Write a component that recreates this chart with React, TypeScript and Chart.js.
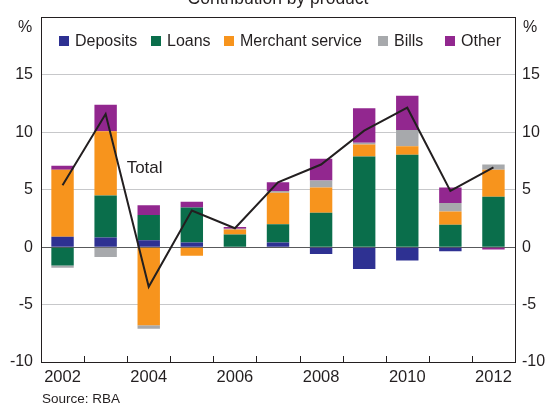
import React, { useEffect, useRef } from "react";
import { Chart, registerables } from "chart.js";

Chart.register(...registerables);

const years = ["2002", "2003", "2004", "2005", "2006", "2007", "2008", "2009", "2010", "2011", "2012"];
const deposits = [0.9, 0.85, 0.6, 0.4, 0, 0.4, -0.6, -1.9, -1.15, -0.35, 0];
const loans = [-1.6, 3.65, 2.2, 3.05, 1.1, 1.6, 3.0, 7.9, 8.05, 1.95, 4.4];
const merchant = [5.85, 5.6, -6.8, -0.75, 0.45, 2.75, 2.2, 1.05, 0.75, 1.15, 2.35];
const bills = [-0.2, -0.85, -0.3, 0, 0.05, 0.15, 0.6, 0.15, 1.4, 0.75, 0.45];
const other = [0.35, 2.3, 0.85, 0.5, 0.15, 0.75, 1.9, 3.0, 3.0, 1.35, -0.2];
const total = [5.4, 11.6, -3.45, 3.2, 1.65, 5.65, 7.2, 10.15, 12.15, 4.9, 6.95];

const yTicks = [-10, -5, 0, 5, 10, 15];

const FONT = "'Liberation Sans', Arial, Helvetica, sans-serif";
const TEXT = "#231f20";

const extras = {
  id: "extras",
  afterDraw(chart: any) {
    const ctx = chart.ctx;
    const area = chart.chartArea;
    const xs = chart.scales.x;
    const ys = chart.scales.y;
    ctx.save();
    // title (partially cut off at top)
    ctx.fillStyle = TEXT;
    ctx.font = `17.5px ${FONT}`;
    ctx.textAlign = "center";
    ctx.textBaseline = "alphabetic";
    ctx.fillText("Contribution by product", (area.left + area.right) / 2, 4);
    // % units
    ctx.font = `16px ${FONT}`;
    ctx.textBaseline = "middle";
    ctx.fillText("%", 25, 28);
    ctx.fillText("%", 530, 28);
    // legend inside plot
    const boxX = [59, 151, 224, 378, 445];
    const bars = chart.data.datasets.filter((d: any) => d.type === "bar");
    ctx.textAlign = "left";
    bars.forEach((d: any, i: number) => {
      ctx.fillStyle = d.backgroundColor;
      ctx.fillRect(boxX[i], 36, 10, 10);
      ctx.fillStyle = TEXT;
      ctx.fillText(d.label, boxX[i] + 16, 42);
    });
    // x tick marks pointing inward
    ctx.strokeStyle = TEXT;
    ctx.lineWidth = 1;
    for (let i = 1; i < years.length; i++) {
      const x = Math.round((xs.getPixelForValue(i - 1) + xs.getPixelForValue(i)) / 2) + 0.5;
      ctx.beginPath();
      ctx.moveTo(x, area.bottom);
      ctx.lineTo(x, area.bottom - 6);
      ctx.stroke();
    }
    // Total label
    ctx.fillStyle = TEXT;
    ctx.font = `17px ${FONT}`;
    ctx.textAlign = "left";
    ctx.textBaseline = "middle";
    ctx.fillText("Total", xs.getPixelForValue(1) + 21, ys.getPixelForValue(6.9));
    // source
    ctx.font = `13.5px ${FONT}`;
    ctx.textBaseline = "alphabetic";
    ctx.fillText("Source: RBA", 42, 403);
    ctx.restore();
  },
};

export default function App() {
  const ref = useRef<HTMLCanvasElement | null>(null);
  useEffect(() => {
    if (!ref.current) return;
    const mk = (label: string, data: number[], color: string) => ({
      type: "bar" as const,
      label,
      data,
      backgroundColor: color,
      borderWidth: 0,
      stack: "s",
      order: 1,
      categoryPercentage: 1,
      barPercentage: 0.52,
    });
    const tickCb = (v: any) => (yTicks.includes(v) ? String(v) : "");
    const chart = new Chart(ref.current, {
      type: "bar",
      data: {
        labels: years,
        datasets: [
          {
            type: "line" as const,
            label: "Total",
            data: total,
            borderColor: "#231f20",
            borderWidth: 2,
            pointRadius: 0,
            tension: 0,
            fill: false,
            stack: "total",
            order: 0,
          } as any,
          mk("Deposits", deposits, "#2e3192"),
          mk("Loans", loans, "#0a6e4b"),
          mk("Merchant service", merchant, "#f7941d"),
          mk("Bills", bills, "#a7a9ac"),
          mk("Other", other, "#92278f"),
        ],
      },
      options: {
        animation: false,
        responsive: true,
        maintainAspectRatio: false,
        layout: { padding: { top: 13, left: 0, right: 0, bottom: 0 } },
        plugins: {
          legend: { display: false },
          title: { display: false },
          tooltip: { enabled: false },
        },
        scales: {
          x: {
            stacked: true,
            offset: true,
            grid: { display: false, drawTicks: false },
            border: { display: true, color: TEXT, width: 1 },
            ticks: {
              autoSkip: false,
              maxRotation: 0,
              padding: 6,
              color: TEXT,
              font: { family: FONT, size: 16.5 },
              callback: (_v: any, i: number) => (i % 2 === 0 ? years[i] : ""),
            },
            afterFit: (s: any) => {
              s.height = 42;
            },
          },
          y: {
            stacked: true,
            min: -10,
            max: 20,
            position: "left",
            grid: {
              drawTicks: false,
              lineWidth: 1,
              color: (c: any) => {
                const v = c.tick && c.tick.value;
                if (v === 20) return TEXT;
                if (v === 0) return "#58595b";
                if (v === -10) return "rgba(0,0,0,0)";
                return "#c7c8ca";
              },
            },
            border: { display: true, color: TEXT, width: 1 },
            ticks: {
              stepSize: 5,
              padding: 8,
              color: TEXT,
              font: { family: FONT, size: 16 },
              callback: tickCb,
            },
            afterFit: (s: any) => {
              s.width = 41;
            },
          },
          y2: {
            min: -10,
            max: 20,
            position: "right",
            grid: { display: false, drawTicks: false },
            border: { display: true, color: TEXT, width: 1 },
            ticks: {
              stepSize: 5,
              padding: 7,
              color: TEXT,
              font: { family: FONT, size: 16 },
              callback: tickCb,
            },
            afterFit: (s: any) => {
              s.width = 33;
            },
          },
        },
      },
      plugins: [extras],
    });
    return () => chart.destroy();
  }, []);
  return (
    <div style={{ position: "absolute", left: 0, top: 0, width: 548, height: 404, background: "#fff" }}>
      <canvas ref={ref} />
    </div>
  );
}
